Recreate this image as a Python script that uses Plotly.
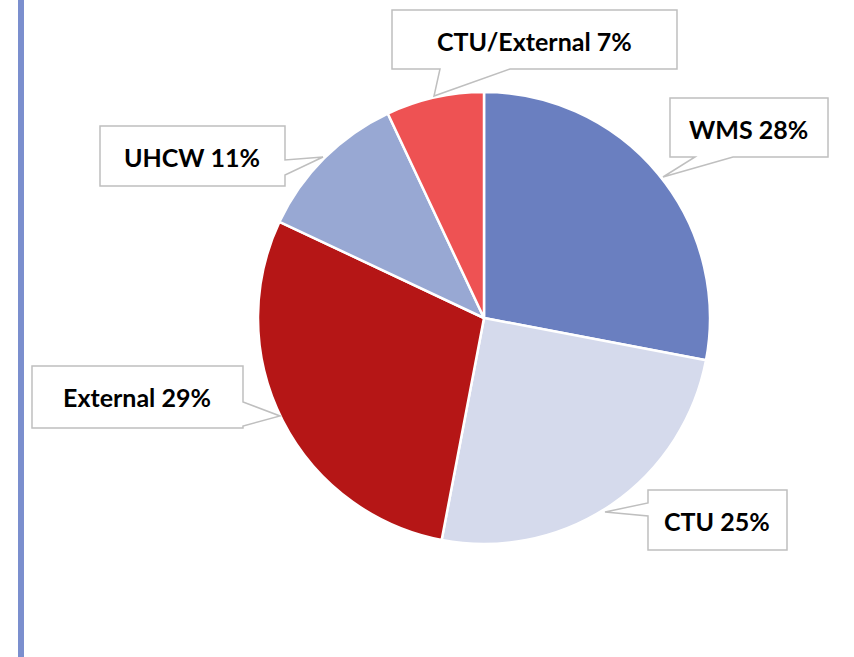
import plotly.graph_objects as go

labels = ["WMS", "CTU", "External", "UHCW", "CTU/External"]
values = [28, 25, 29, 11, 7]
colors = ["#6a7fc0", "#d5daec", "#b51616", "#98a8d3", "#ee5253"]

W, H = 854, 657

def px(x):
    return x / W

def py(y):
    return 1 - y / H

fig = go.Figure(go.Pie(
    labels=labels, values=values, sort=False, direction="clockwise", rotation=0,
    marker=dict(colors=colors, line=dict(color="white", width=2.5)),
    textinfo="none", hoverinfo="label+percent", showlegend=False,
    domain=dict(x=[px(258), px(710)], y=[py(544), py(92)]),
))

callouts = [
    [(392, 10), (677, 10), (677, 69), (510, 69), (434, 96), (440, 69), (392, 69)],
    [(670, 98), (828, 98), (828, 157), (733, 157), (663, 177), (695, 157), (670, 157)],
    [(100, 126), (285, 126), (285, 160), (323, 157), (285, 175), (285, 186), (100, 186)],
    [(32, 366), (243, 366), (243, 402), (280, 416), (243, 426), (243, 428), (32, 428)],
    [(648, 490), (787, 490), (787, 550), (648, 550), (648, 516), (605, 512), (648, 503)],
]
shapes = []
for pts in callouts:
    path = "M " + " L ".join(f"{px(x):.5f},{py(y):.5f}" for x, y in pts) + " Z"
    shapes.append(dict(type="path", xref="paper", yref="paper", path=path,
                       fillcolor="white", line=dict(color="#bfbfbf", width=1.5), layer="above"))

shapes.append(dict(type="rect", xref="paper", yref="paper", x0=px(18), x1=px(24), y0=0, y1=1,
                   fillcolor="#7b8fce", line=dict(width=0), layer="below"))

text_pos = [(534, 41), (748, 129), (192, 157), (137, 397), (717, 521)]
order = [4, 0, 3, 2, 1]
annotations = []
for (cx, cy), i in zip(text_pos, order):
    annotations.append(dict(
        x=px(cx), y=py(cy), xref="paper", yref="paper", showarrow=False,
        text=f"<b>{labels[i]} {values[i]}%</b>",
        font=dict(family="Lato", size=25, color="black"),
        xanchor="center", yanchor="middle"))

fig.update_layout(
    width=W, height=H, margin=dict(l=0, r=0, t=0, b=0),
    paper_bgcolor="white", plot_bgcolor="white",
    shapes=shapes, annotations=annotations,
)

fig.write_html("out.html", config={"displayModeBar": False},
               post_script="document.body.style.margin='0';")
